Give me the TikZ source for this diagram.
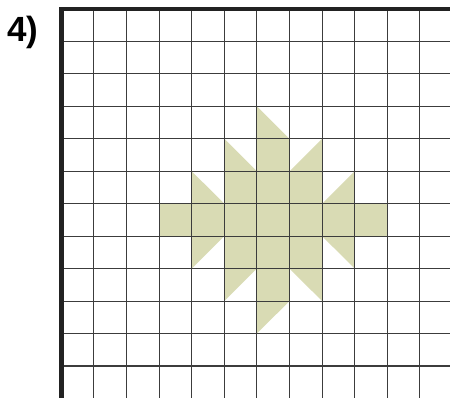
\documentclass[tikz,border=0pt]{standalone}
\usepackage{fontspec}
\setmainfont{Liberation Sans}
\definecolor{starfill}{RGB}{217,219,180}
\definecolor{gridc}{RGB}{60,60,60}
\definecolor{borderc}{RGB}{34,34,34}
\tikzset{
  gridline/.style={draw=gridc, line width=1.1pt},
  borderline/.style={draw=borderc, line width=4.4pt},
  labeltext/.style={inner sep=0pt, font=\fontsize{35}{40}\selectfont\bfseries}
}
\begin{document}
\begin{tikzpicture}[x=1pt,y=-1pt]
\useasboundingbox (0,0) rectangle (450,397);
\fill[white] (0,0) rectangle (450,397);
\node[labeltext, anchor=base west] (lbl) at (7,41.7) {4)};
\begin{scope}
\clip (0,0) rectangle (450,397);
\begin{scope}[shift={(61.3,9)}, x=32.6pt, y=-32.45pt]
  \fill[starfill] (6,3) -- (7,4) -- (7,5) -- (8,4) -- (8,5) -- (8,6) -- (9,5) -- (9,6)
    -- (10,6) -- (10,7) -- (9,7) -- (9,8) -- (8,7) -- (8,8) -- (8,9) -- (7,8) -- (7,9)
    -- (6,10) -- (6,9) -- (6,8) -- (5,9) -- (5,8) -- (5,7) -- (4,8) -- (4,7) -- (3,7)
    -- (3,6) -- (4,6) -- (4,5) -- (5,6) -- (5,5) -- (5,4) -- (6,5) -- (6,4) -- cycle;
  \foreach \i in {1,...,12} {
    \draw[gridline] (\i,0) -- (\i,12.5);
    \draw[gridline] (0,\i) -- (12.5,\i);
  }
  \draw[borderline] (0,12.5) -- (0,0) -- (12.5,0);
\end{scope}
\end{scope}
\end{tikzpicture}
\end{document}
